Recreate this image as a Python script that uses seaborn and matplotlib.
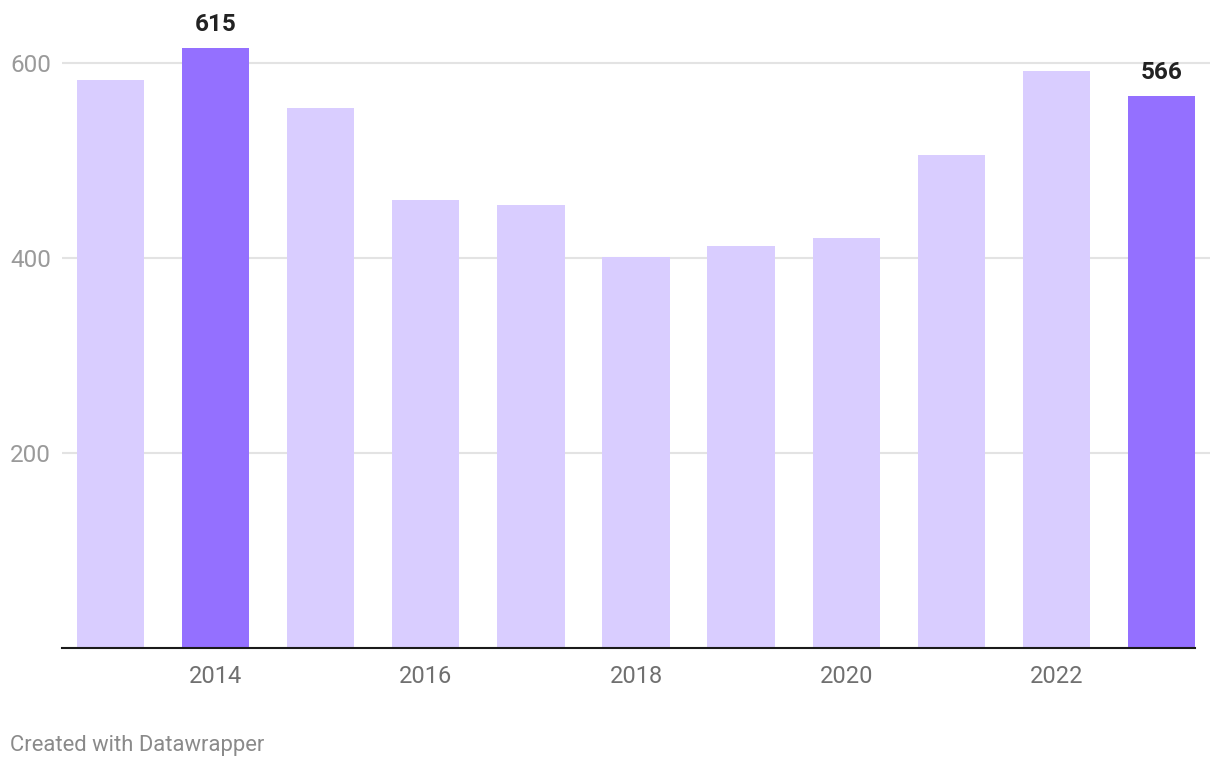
import matplotlib
matplotlib.use("Agg")
import matplotlib.pyplot as plt
import seaborn as sns
import pandas as pd

years = [2013, 2014, 2015, 2016, 2017, 2018, 2019, 2020, 2021, 2022, 2023]
values = [583, 615, 554, 459, 454, 401, 412, 421, 506, 592, 566]
highlighted = [2014, 2023]
y_ticks = [200, 400, 600]
x_tick_years = [2014, 2016, 2018, 2020, 2022]

LIGHT = "#d9cdff"
DARK = "#9470ff"

sns.set_theme(style="white")
plt.rcParams["font.family"] = ["Roboto", "DejaVu Sans"]

df = pd.DataFrame({
    "year": [str(y) for y in years],
    "value": values,
    "hl": ["yes" if y in highlighted else "no" for y in years],
})

fig = plt.figure(figsize=(12.2, 7.7), dpi=100)
ax = fig.add_axes([62 / 1220, 1 - 648 / 770, (1210 - 62) / 1220, (648 - 14.25) / 770])

sns.barplot(data=df, x="year", y="value", hue="hl",
            palette={"yes": DARK, "no": LIGHT}, dodge=False,
            width=0.64, legend=False, ax=ax, saturation=1)

for c in ax.containers:
    for bar in c:
        bar.set_edgecolor("none")
    labels = []
    for bar in c:
        h = bar.get_height()
        idx = int(round(bar.get_x() + bar.get_width() / 2))
        if 0 <= idx < len(years) and years[idx] in highlighted and h == h:
            labels.append(f"{int(h)}")
        else:
            labels.append("")
    ax.bar_label(c, labels=labels, padding=9, fontsize=17.5, fontweight="bold",
                 color="#222222")

ax.set_xlim(-0.46, len(years) - 1 + 0.46)
ax.set_ylim(0, 650)
ax.set_yticks(y_ticks)
ax.set_yticklabels([str(v) for v in y_ticks])
ax.yaxis.grid(True, color="#e3e3e3", linewidth=1.5)
ax.set_axisbelow(True)

pos = [years.index(y) for y in x_tick_years]
ax.set_xticks(pos)
ax.set_xticklabels([str(y) for y in x_tick_years])

ax.tick_params(axis="y", length=0, pad=8, labelsize=17.5, labelcolor="#9a9a9a")
ax.tick_params(axis="x", length=0, pad=12, labelsize=17, labelcolor="#707070")
ax.set_xlabel("")
ax.set_ylabel("")

for s in ["top", "right", "left"]:
    ax.spines[s].set_visible(False)
ax.spines["bottom"].set_color("#1a1a1a")
ax.spines["bottom"].set_linewidth(1.5)
ax.spines["bottom"].set_bounds(-0.46, len(years) - 1 + 0.32)

fig.text(10 / 1220, 1 - 746 / 770, "Created with Datawrapper", fontsize=15.8,
         color="#8a8a8a", va="center", ha="left")

fig.savefig("out.png", dpi=100)
